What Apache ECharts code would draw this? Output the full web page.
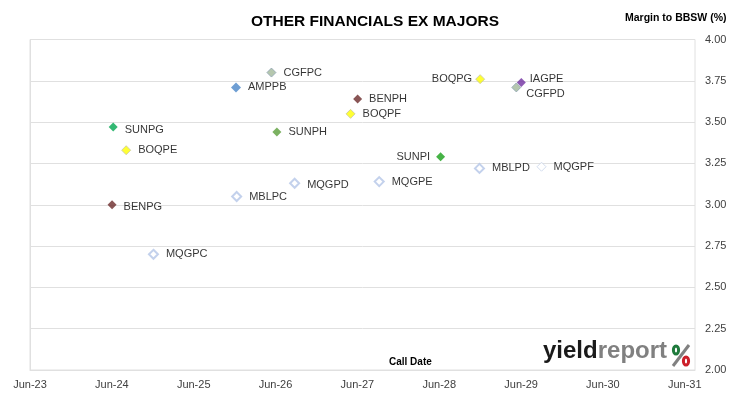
<!DOCTYPE html>
<html>
  <head>
    <meta charset="utf-8">
    <title>Other Financials ex Majors</title>
    <script src="https://cdn.jsdelivr.net/npm/echarts@6/dist/echarts.min.js"></script>
    <style>
      html, body { margin: 0; padding: 0; background: #fff; }
      #main { width: 730px; height: 399px; }
    </style>
  </head>
  <body>
    <div id="main"></div>
    <script>
      // securities, call dates and margins
      const names = ['CGFPC', 'AMPPB', 'BENPH', 'BOQPF', 'SUNPG', 'SUNPH', 'BOQPE', 'MQGPD', 'MBLPC',
                     'BENPG', 'MQGPC', 'BOQPG', 'IAGPE', 'CGFPD', 'SUNPI', 'MBLPD', 'MQGPF', 'MQGPE'];
      const callDates = ['2026-05-13', '2025-12-07', '2027-06-02', '2027-05-01', '2024-06-07', '2026-06-07',
                         '2024-08-04', '2026-08-25', '2025-12-10', '2024-06-02', '2024-12-04', '2028-12-01',
                         '2029-06-02', '2029-05-10', '2028-06-07', '2028-11-28', '2029-09-01', '2027-09-07'];
      const margins = [3.80, 3.71, 3.64, 3.55, 3.47, 3.44, 3.33, 3.13, 3.05,
                       3.00, 2.70, 3.76, 3.74, 3.71, 3.29, 3.22, 3.23, 3.14];
      const xTickLabels = ['Jun-23', 'Jun-24', 'Jun-25', 'Jun-26', 'Jun-27', 'Jun-28', 'Jun-29', 'Jun-30', 'Jun-31'];

      // marker look per security
      const hollow = { color: '#fff', borderColor: '#b4c6e7', borderWidth: 2 };
      const yellow = { color: '#ffff00', borderColor: '#c8c8a0', borderWidth: 1 };
      const sage = { color: '#a3b99a', borderColor: '#8fa3b3', borderWidth: 1 };
      const markerStyle = {
        CGFPC: sage, CGFPD: sage,
        AMPPB: { color: '#4a86c8' },
        BENPH: { color: '#6b2b2b' }, BENPG: { color: '#6b2b2b' },
        BOQPE: yellow, BOQPF: yellow, BOQPG: yellow,
        SUNPG: { color: '#00a650' }, SUNPH: { color: '#5a9e3a' }, SUNPI: { color: '#18a018' },
        IAGPE: { color: '#7030a0' },
        MQGPC: hollow, MQGPD: hollow, MQGPE: hollow, MBLPC: hollow, MBLPD: hollow,
        MQGPF: { color: '#fff', borderColor: '#c9d5ea', borderWidth: 1 }
      };
      // label placement tweaks
      const labelTweak = {
        BOQPG: { position: 'left', distance: 3 },
        SUNPI: { position: 'left', distance: 6 },
        IAGPE: { distance: 4, offset: [0, -3] },
        CGFPD: { distance: 5, offset: [0, 7] },
        SUNPG: { offset: [0, 3] },
        BENPG: { offset: [0, 2] },
        MQGPD: { offset: [0, 2] }
      };

      // months since 1 Jun 2023
      function toMonths(s) {
        const p = s.split('-').map(Number);
        return (p[0] - 2023) * 12 + (p[1] - 6) + (p[2] - 1) / 30;
      }

      const series = names.map(function (n, i) {
        return {
          name: n,
          type: 'scatter',
          symbol: 'diamond',
          symbolSize: n === 'AMPPB' ? 10 : 9,
          itemStyle: markerStyle[n],
          label: Object.assign({
            show: true,
            position: 'right',
            distance: 7,
            formatter: n,
            color: '#000',
            fontFamily: 'Liberation Sans',
            fontSize: 11
          }, labelTweak[n] || {}),
          data: [[toMonths(callDates[i]), margins[i]]]
        };
      });

      const chart = echarts.init(document.getElementById('main'), null, { renderer: 'canvas' });
      chart.setOption({
        animation: false,
        backgroundColor: '#fff',
        title: {
          text: 'OTHER FINANCIALS EX MAJORS',
          left: 370, top: 9, textAlign: 'center',
          textStyle: { fontFamily: 'Liberation Sans', fontWeight: 'bold', fontSize: 15.5, color: '#000' }
        },
        grid: {
          left: 30, right: 35, top: 39.5, bottom: 29,
          show: true, borderColor: '#e0e0e0', borderWidth: 1
        },
        xAxis: {
          type: 'value',
          min: 0, max: 97.5, interval: 12,
          axisLine: { show: true, lineStyle: { color: '#e0e0e0' } },
          axisTick: { show: false },
          splitLine: { show: false },
          axisLabel: {
            margin: 9, color: '#404040', fontFamily: 'Liberation Sans', fontSize: 11,
            showMaxLabel: false,
            formatter: function (v) {
              return v % 12 === 0 ? (xTickLabels[v / 12] || '') : '';
            }
          }
        },
        yAxis: {
          type: 'value',
          position: 'right',
          min: 2, max: 4, interval: 0.25,
          axisLine: { show: true, lineStyle: { color: '#e0e0e0' } },
          axisTick: { show: true, length: 4, lineStyle: { color: '#e0e0e0' } },
          splitLine: { show: true, lineStyle: { color: '#e0e0e0' } },
          axisLabel: {
            margin: 10, color: '#404040', fontFamily: 'Liberation Sans', fontSize: 11,
            formatter: function (v) { return v.toFixed(2); }
          }
        },
        graphic: [
          { type: 'text', left: 625, top: 13,
            style: { text: 'Margin to BBSW (%)', font: 'bold 10.5px "Liberation Sans"', fill: '#000' } },
          { type: 'text', left: 389, top: 357,
            style: { text: 'Call Date', font: 'bold 10px "Liberation Sans"', fill: '#000' } },
          { type: 'text', left: 543, top: 339,
            style: {
              text: '{a|yield}{b|report}',
              rich: {
                a: { fontFamily: 'Liberation Sans', fontWeight: 'bold', fontSize: 24, fill: '#1a1a1a', color: '#1a1a1a' },
                b: { fontFamily: 'Liberation Sans', fontWeight: 'bold', fontSize: 24, fill: '#808080', color: '#808080' }
              }
            } },
          { type: 'line', shape: { x1: 673, y1: 366, x2: 689, y2: 345 },
            style: { stroke: '#808080', lineWidth: 3 } },
          { type: 'ellipse', shape: { cx: 676, cy: 350, rx: 2.6, ry: 4 },
            style: { fill: '#fff', stroke: '#1f7a3c', lineWidth: 3 } },
          { type: 'ellipse', shape: { cx: 686, cy: 361, rx: 2.6, ry: 4 },
            style: { fill: '#fff', stroke: '#cc1f2a', lineWidth: 3 } }
        ],
        series: series
      });
    </script>
  </body>
</html>
